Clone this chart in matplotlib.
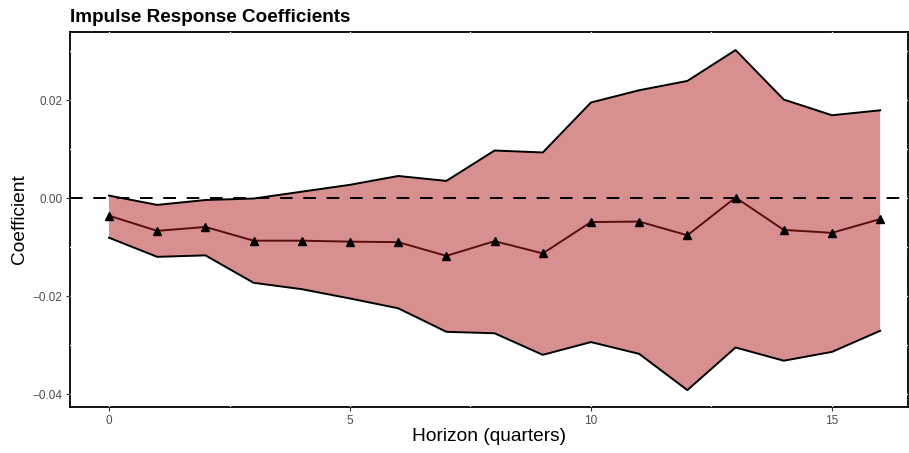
import numpy as np
import matplotlib.pyplot as plt

plt.rcParams["font.family"] = ["Liberation Sans", "DejaVu Sans"]

horizon = list(range(17))
coef = [-0.0036, -0.0067, -0.0059, -0.0087, -0.0087, -0.0089, -0.0090, -0.0118,
        -0.0088, -0.0113, -0.0049, -0.0048, -0.0076, 0.0001, -0.0065, -0.0071, -0.0043]
upper = [0.0005, -0.0014, -0.0004, -0.0001, 0.0013, 0.0027, 0.0045, 0.0035,
         0.0097, 0.0093, 0.0195, 0.0220, 0.0239, 0.0302, 0.0201, 0.0169, 0.0179]
lower = [-0.0081, -0.0120, -0.0117, -0.0173, -0.0186, -0.0205, -0.0225, -0.0273,
         -0.0276, -0.0320, -0.0294, -0.0318, -0.0392, -0.0305, -0.0332, -0.0314, -0.0271]

fig = plt.figure(figsize=(9.09, 4.53), dpi=100)
ax = fig.add_axes([0.077, 0.1015, 0.922, 0.828])

# white grid (only visible where it crosses the border, like ggplot)
for gx in np.arange(0, 17.5, 2.5):
    ax.axvline(gx, color="white", lw=0.9, zorder=1)
for gy in np.arange(-0.04, 0.035, 0.01):
    ax.axhline(gy, color="white", lw=0.9, zorder=1)

ax.fill_between(horizon, lower, upper, facecolor="#d78f90", edgecolor="none", zorder=2)
ax.plot(horizon, upper, color="black", lw=1.4, zorder=3)
ax.plot(horizon, lower, color="black", lw=1.4, zorder=3)
ax.axhline(0, color="black", lw=1.4, ls=(0, (6.5, 5.5)), zorder=3)
ax.plot(horizon, coef, color="#5a0d0d", lw=1.4, zorder=4)
ax.plot(horizon, coef, ls="none", marker="^", color="black", ms=5.5, zorder=5)

ax.set_xlim(-0.81, 16.58)
ax.set_ylim(-0.04265, 0.0339)
ax.set_xticks([0, 5, 10, 15])
ax.set_yticks([-0.04, -0.02, 0.0, 0.02])
ax.set_yticklabels(["\u22120.04", "\u22120.02", "0.00", "0.02"])

for sp in ax.spines.values():
    sp.set_color("black")
    sp.set_linewidth(1.3)
    sp.set_zorder(0.9)

ax.tick_params(axis="both", direction="out", length=3, width=0.8, color="#333333",
               labelsize=8.5, labelcolor="#4d4d4d", pad=2.5)

ax.set_xlabel("Horizon (quarters)", fontsize=13.8, labelpad=1)
ax.set_ylabel("Coefficient", fontsize=13.8, labelpad=3)
ax.set_title("Impulse Response Coefficients", loc="left", fontsize=13.6,
             fontweight="bold", pad=7)

fig.savefig("out.png", dpi=100)
